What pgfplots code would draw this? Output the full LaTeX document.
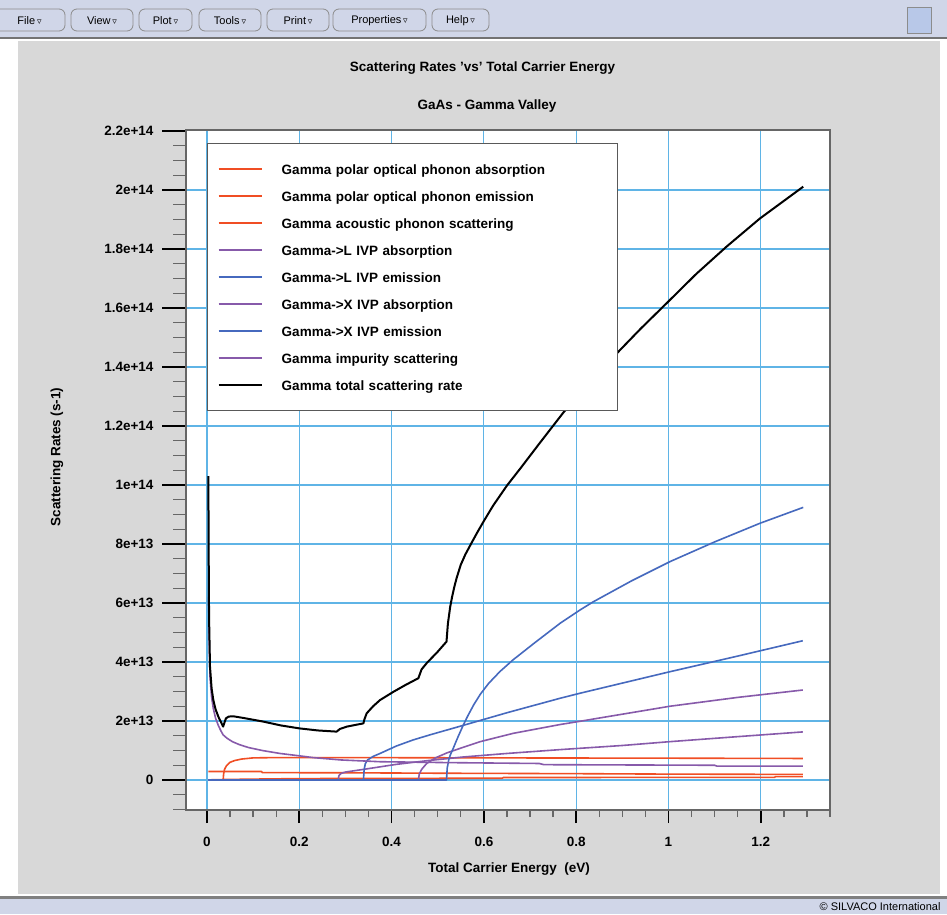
\documentclass[border=0pt]{standalone}
\usepackage{pgfplots}
\pgfplotsset{compat=1.18}
\usepackage{fontspec}
\setmainfont{Liberation Sans}
\newfontfamily\dejavu{DejaVu Sans}

\definecolor{rateorange}{RGB}{240,78,36}
\definecolor{ratepurple}{RGB}{135,90,170}
\definecolor{rateblue}{RGB}{70,105,190}
\definecolor{gridblue}{RGB}{95,180,230}
\definecolor{panelgray}{RGB}{216,216,216}
\definecolor{menubg}{RGB}{208,214,232}
\definecolor{boxblue}{RGB}{184,200,232}

\newcommand{\lbl}{\fontsize{13.5}{16}\selectfont\bfseries}
\newcommand{\menubtn}[3]{%
  \draw[black!45, fill=menubg, rounded corners=6pt, line width=0.8pt] (#1pt,-9pt) rectangle (#2pt,-31pt);
  \node[font=\fontsize{11}{13}\selectfont] at ({(#1pt+#2pt)/2},-21pt) {#3\,{\dejavu\fontsize{9}{10}\selectfont ▿}};}

\begin{document}
\begin{tikzpicture}
\useasboundingbox (0,0) rectangle (947pt,-914pt);
\fill[white] (0,0) rectangle (947pt,-914pt);
% menu bar
\fill[menubg] (0,0) rectangle (947pt,-37pt);
\fill[black!55] (0,-37pt) rectangle (947pt,-39pt);
\menubtn{-6}{65}{File}
\menubtn{71}{133}{View}
\menubtn{139}{192}{Plot}
\menubtn{199}{261}{Tools}
\menubtn{267}{329}{Print}
\menubtn{333}{426}{Properties}
\menubtn{432}{489}{Help}
\draw[black!45, fill=boxblue] (907pt,-7pt) rectangle (931pt,-33pt);
% panel
\fill[panelgray] (18pt,-41pt) rectangle (940pt,-894pt);
% footer
\fill[black!50] (0,-896pt) rectangle (947pt,-899pt);
\fill[menubg] (0,-899pt) rectangle (947pt,-914pt);
\node[anchor=east, font=\fontsize{11}{13}\selectfont] at (944pt,-906.5pt) {© SILVACO International};
\node[font=\lbl] at (487pt,-106pt) {GaAs - Gamma Valley};

\begin{axis}[
    at={(186pt,-810pt)}, anchor=south west,
    scale only axis, width=644pt, height=680pt,
    xmin=-0.0455, xmax=1.35,
    ymin=-1.017e13, ymax=2.203e14,
    scaled y ticks=false, scaled x ticks=false,
    axis background/.style={fill=white},
    axis line style={draw=black!60, line width=1.6pt},
    every axis title shift=0pt,
    title={Scattering Rates 'vs' Total Carrier Energy},
    title style={at={(axis description cs:0.4604,1.0912)}, anchor=center, font=\lbl},
    xlabel={Total Carrier Energy\ \ (eV)},
    ylabel={Scattering Rates (s-1)},
    xlabel style={at={(axis description cs:0.5016,-0.0868)}, anchor=center, font=\lbl},
    ylabel style={at={(axis description cs:-0.2003,0.519)}, anchor=center, font=\lbl},
    xtick={0,0.2,0.4,0.6,0.8,1,1.2},
    xticklabels={0,0.2,0.4,0.6,0.8,1,1.2},
    ytick={0,2e13,4e13,6e13,8e13,1e14,1.2e14,1.4e14,1.6e14,1.8e14,2e14,2.2e14},
    yticklabels={0,2e+13,4e+13,6e+13,8e+13,1e+14,1.2e+14,1.4e+14,1.6e+14,1.8e+14,2e+14,2.2e+14},
    minor xtick={0,0.05,...,1.35},
    minor ytick={-1e13,-5e12,...,2.2e14},
    ticklabel style={font=\lbl},
    yticklabel style={xshift=-5pt},
    tick align=outside, tickpos=left,
    major tick length=24pt, minor tick length=13pt,
    every major x tick/.append style={/pgfplots/major tick length=13pt},
    every minor x tick/.append style={/pgfplots/minor tick length=7pt},
    major tick style={draw=black, line width=1.6pt},
    minor tick style={draw=black!60, line width=1.3pt},
    grid=major,
    major grid style={draw=gridblue, line width=1.2pt},
    legend image code/.code={\draw[#1] (0pt,0pt) -- (43pt,0pt);},
    legend cell align=left,
    legend style={at={(axis description cs:0.0326,0.981)}, anchor=north west,
        draw=black!65, line width=1.5pt, fill=white, font=\lbl,
        inner xsep=10pt, inner ysep=17pt, row sep=10pt, column sep=19pt,
        nodes={text width=326pt, inner sep=0pt, text height=14pt, text depth=3pt}},
    every axis plot/.append style={line width=1.6pt, line join=round},
]

% Gamma polar optical phonon absorption
\addplot[rateorange] coordinates {
(0.003,2.9e12) (0.118,2.9e12) (0.12,2.5e12) (0.3,2.45e12) (0.5,2.3e12)
(0.8,2.15e12) (1.0,2.0e12) (1.291,1.9e12)};
\addlegendentry{Gamma polar optical phonon absorption}

% Gamma polar optical phonon emission
\addplot[rateorange] coordinates {
(0.003,0) (0.035,0) (0.036,2.0e12) (0.038,3.6e12) (0.042,4.8e12) (0.05,6.0e12)
(0.06,6.6e12) (0.075,7.1e12) (0.1,7.5e12) (0.15,7.6e12) (0.3,7.6e12)
(0.6,7.5e12) (1.0,7.4e12) (1.291,7.3e12)};
\addlegendentry{Gamma polar optical phonon emission}

% Gamma acoustic phonon scattering
\addplot[rateorange] coordinates {
(0.003,0.05e12) (0.05,0.2e12) (0.15,0.4e12) (0.3,0.55e12) (0.64,0.6e12)
(0.642,0.85e12) (1.23,0.9e12) (1.232,1.15e12) (1.291,1.15e12)};
\addlegendentry{Gamma acoustic phonon scattering}

% Gamma->L IVP absorption
\addplot[ratepurple] coordinates {
(0.003,0) (0.284,0) (0.286,1.5e12) (0.29,2.2e12) (0.3,2.7e12) (0.339,3.6e12)
(0.41,5.3e12) (0.48,6.6e12) (0.555,7.8e12) (0.65,9.0e12) (0.765,1.03e13)
(0.9,1.17e13) (1.003,1.3e13) (1.15,1.47e13) (1.291,1.63e13)};
\addlegendentry{Gamma->L IVP absorption}

% Gamma->L IVP emission
\addplot[rateblue] coordinates {
(0.003,0) (0.339,0) (0.3405,3.5e12) (0.343,5.5e12) (0.348,6.8e12) (0.36,8.0e12)
(0.375,9.0e12) (0.41,1.15e13) (0.447,1.36e13) (0.483,1.53e13) (0.548,1.82e13)
(0.65,2.28e13) (0.765,2.77e13) (0.808,2.94e13) (1.003,3.67e13) (1.15,4.2e13)
(1.291,4.72e13)};
\addlegendentry{Gamma->L IVP emission}

% Gamma->X IVP absorption
\addplot[ratepurple] coordinates {
(0.003,0) (0.458,0) (0.46,2.0e12) (0.465,3.6e12) (0.476,5.6e12) (0.495,7.5e12)
(0.52,9.2e12) (0.548,1.07e13) (0.592,1.3e13) (0.663,1.58e13) (0.765,1.88e13)
(0.808,1.99e13) (1.003,2.5e13) (1.15,2.8e13) (1.291,3.05e13)};
\addlegendentry{Gamma->X IVP absorption}

% Gamma->X IVP emission
\addplot[rateblue] coordinates {
(0.003,0) (0.519,0) (0.5205,4e12) (0.524,7e12) (0.528,8.8e12) (0.533,1.05e13)
(0.539,1.28e13) (0.545,1.5e13) (0.555,1.85e13) (0.565,2.17e13) (0.578,2.55e13)
(0.592,2.9e13) (0.61,3.27e13) (0.635,3.68e13) (0.663,4.07e13) (0.71,4.65e13)
(0.765,5.31e13) (0.808,5.76e13) (0.837,6.04e13) (0.92,6.75e13)
(1.003,7.4e13) (1.1,8.07e13) (1.198,8.7e13) (1.292,9.24e13)};
\addlegendentry{Gamma->X IVP emission}

% Gamma impurity scattering
\addplot[ratepurple] coordinates {
(0.0035,6.2e13) (0.0045,4.9e13) (0.0065,3.5e13) (0.01,2.8e13) (0.0137,2.42e13)
(0.0185,2.1e13) (0.0245,1.85e13) (0.03,1.67e13) (0.035,1.53e13) (0.043,1.42e13)
(0.055,1.3e13) (0.07,1.2e13) (0.09,1.1e13) (0.12,1.0e13) (0.158,9.0e12) (0.2,8.2e12)
(0.23,7.6e12) (0.29,6.8e12) (0.375,6.2e12) (0.52,5.9e12) (0.72,5.6e12)
(0.73,5.2e12) (1.1,5.0e12) (1.105,4.7e12) (1.291,4.7e12)};
\addlegendentry{Gamma impurity scattering}

% Gamma total scattering rate
\addplot[black, line width=2pt] coordinates {
(0.003,1.03e14) (0.0035,8.0e13) (0.0045,5.5e13) (0.0065,3.84e13) (0.01,3.1e13)
(0.0137,2.71e13) (0.0185,2.4e13) (0.0245,2.15e13) (0.03,1.97e13) (0.035,1.81e13)
(0.041,2.09e13) (0.047,2.15e13) (0.057,2.16e13) (0.08,2.1e13) (0.122,1.98e13)
(0.16,1.85e13) (0.2,1.75e13) (0.24,1.68e13) (0.281,1.64e13) (0.288,1.73e13)
(0.303,1.81e13) (0.339,1.92e13) (0.341,2.05e13) (0.346,2.26e13) (0.36,2.5e13)
(0.375,2.71e13) (0.404,2.99e13) (0.43,3.22e13) (0.458,3.45e13) (0.465,3.75e13)
(0.476,3.96e13) (0.5,4.35e13) (0.519,4.69e13) (0.522,5.3e13) (0.527,5.87e13)
(0.531,6.2e13) (0.536,6.55e13) (0.541,6.85e13) (0.55,7.3e13) (0.56,7.65e13)
(0.572,8.0e13) (0.586,8.4e13) (0.6,8.78e13) (0.62,9.3e13) (0.65,9.98e13)
(0.68,1.058e14) (0.72,1.14e14) (0.772,1.245e14) (0.83,1.35e14) (0.888,1.446e14)
(0.94,1.53e14) (0.996,1.616e14) (1.06,1.715e14) (1.126,1.808e14) (1.198,1.903e14)
(1.292,2.011e14)};
\addlegendentry{Gamma total scattering rate}

\end{axis}
\end{tikzpicture}
\end{document}
